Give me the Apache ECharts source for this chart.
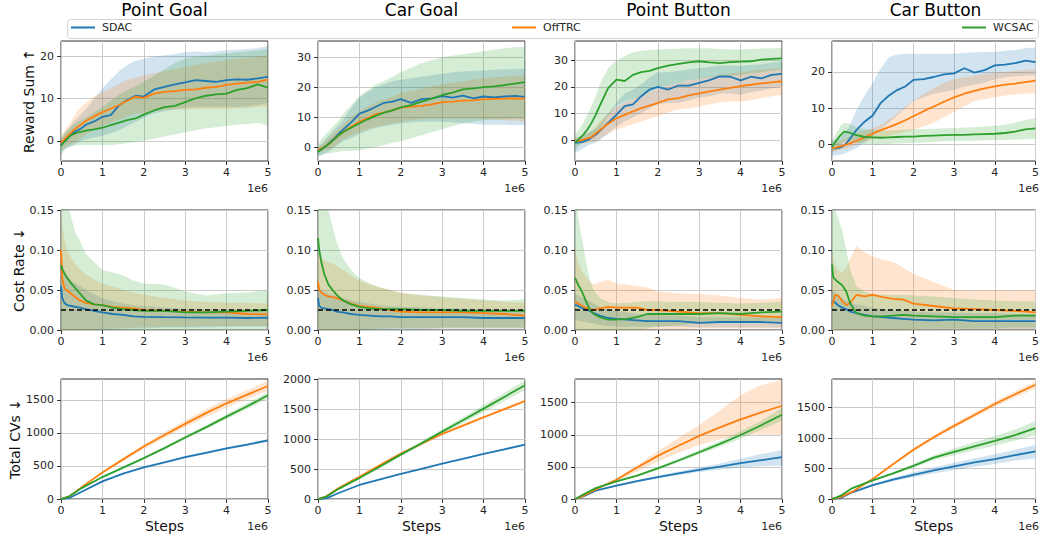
<!DOCTYPE html>
<html><head><meta charset="utf-8">
<script src="https://cdn.jsdelivr.net/npm/echarts@6/dist/echarts.min.js"></script>
<style>html,body{margin:0;padding:0;background:#fff}#c{width:1042px;height:540px}</style>
</head><body><div id="c"></div>
<script>
const algos = ['SDAC', 'OffTRC', 'WCSAC'];
const colors = ['#1f77b4', '#ff7f0e', '#2ca02c'];
const bandColors = ['rgba(31,119,180,0.2)', 'rgba(255,127,14,0.2)', 'rgba(44,160,44,0.2)'];
const tasks = ['Point Goal', 'Car Goal', 'Point Button', 'Car Button'];
const rowLabels = ['Reward Sum ↑', 'Cost Rate ↓', 'Total CVs ↓'];
const costLimit = 0.025;

// x positions (in units of 1e6 steps)
const stepsRew = [0, 0.1, 0.2, 0.3, 0.4, 0.5, 0.6, 0.8, 1, 1.2, 1.4, 1.6, 1.8, 2, 2.25, 2.5, 2.75, 3, 3.25, 3.5, 3.75, 4, 4.25, 4.5, 4.75, 5];
const stepsCost = [0, 0.03, 0.08, 0.15, 0.25, 0.35, 0.45, 0.6, 0.8, 1, 1.25, 1.5, 1.75, 2, 2.5, 3, 3.5, 4, 4.5, 5];
const stepsCV = [0, 0.2, 0.5, 1, 1.5, 2, 2.5, 3, 3.5, 4, 4.5, 5];

// tick labels
const ticksRewPG = [0, 10, 20];
const ticksRewCG = [0, 10, 20, 30];
const ticksRewPB = [0, 10, 20, 30];
const ticksRewCB = [0, 10, 20];
const ticksCost = [0, 0.05, 0.1, 0.15];
const ticksCV = [0, 500, 1000, 1500];
const ticksCVCG = [0, 500, 1000, 1500, 2000];

// ---- Reward Sum: Point Goal
const rewPG_SDAC = [-1, 0, 1, 2, 2.5, 3, 3.8, 4.6, 5.7, 6.1, 8.4, 9.7, 10.7, 10.5, 12.2, 12.8, 13.4, 13.9, 14.4, 14.2, 14.0, 14.4, 14.6, 14.5, 14.8, 15.2];
const rewPG_SDAC_lo = [-2.5, -2, -1.5, -1, -0.5, 0, 0.3, 0.8, 1.2, 1.8, 2.5, 3.5, 4.5, 5.5, 6.5, 7, 7.5, 7.8, 8, 8, 8, 8, 8, 8.2, 8.5, 9];
const rewPG_SDAC_hi = [0.5, 2, 3, 4.5, 5.5, 6.5, 7.5, 10, 12.5, 14.5, 16.5, 18, 19, 19.5, 20, 20.3, 20.6, 21, 21.2, 21, 21.2, 21.5, 21.6, 21.8, 22, 22.5];
const rewPG_OffTRC = [-0.5, 0.5, 1.5, 2.5, 3.3, 4, 4.7, 5.8, 6.8, 7.6, 8.5, 9.5, 10.5, 10.2, 11.2, 11.6, 11.8, 12.1, 12.2, 12.6, 12.8, 13.3, 13.6, 13.8, 14.0, 14.5];
const rewPG_OffTRC_lo = [-2, -1.5, -1, -0.5, 0, 0.8, 1.5, 2.5, 3.5, 4.2, 5, 5.8, 6.5, 6.5, 7, 7.3, 7.5, 7.5, 7.5, 7.6, 7.6, 7.6, 7.7, 7.8, 8, 8.2];
const rewPG_OffTRC_hi = [1, 2.5, 4, 5.5, 7, 8.2, 9, 10.5, 11.5, 12.5, 13.5, 14.5, 15, 15.5, 16, 16.5, 17, 17.5, 18, 18.5, 18.8, 19.2, 19.5, 19.8, 20, 20.3];
const rewPG_WCSAC = [-1.2, 0, 1, 1.6, 2, 2.2, 2.4, 2.7, 3.1, 3.7, 4.3, 4.9, 5.3, 6.2, 7.2, 8.0, 8.3, 9.2, 10.1, 10.7, 11.0, 11.2, 12.1, 12.5, 13.4, 12.6];
const rewPG_WCSAC_lo = [-3.5, -2, -1.5, -1.2, -1, -1, -1, -1, -1, -1, -0.8, -0.6, -0.3, 0, 0.5, 1, 1.5, 2, 2.5, 3, 3.2, 3.5, 3.8, 4, 4.3, 3.6];
const rewPG_WCSAC_hi = [0.5, 2, 3, 3.8, 4.5, 5, 5.5, 6.8, 8, 9.5, 11, 12, 13, 14, 15.5, 17, 18.5, 19.5, 20, 20.2, 20.5, 20.8, 21, 21.2, 21.5, 21.8];

// ---- Reward Sum: Car Goal
const rewCG_SDAC = [-1.5, -0.5, 0.5, 1.8, 3, 4.5, 5.8, 8.3, 11.2, 12.2, 13.5, 14.8, 15.2, 16, 14.8, 16, 16.3, 17, 16.5, 17.2, 16.3, 16.9, 16.6, 16.9, 17.1, 16.8];
const rewCG_SDAC_lo = [-3, -2.5, -2, -1, 0, 1, 2, 3, 4.5, 5.5, 6.5, 7, 7.5, 8, 8.3, 8.5, 8.5, 8.5, 8.3, 8, 7.8, 7.5, 7.5, 7.5, 7.3, 7.5];
const rewCG_SDAC_hi = [0, 1.5, 3, 4.5, 6, 7.5, 9, 13, 16.5, 18.5, 20, 21, 22, 22.5, 23, 23.5, 24, 24.5, 25, 25.2, 25.5, 25.5, 25.8, 26, 26, 26.2];
const rewCG_OffTRC = [-1, -0.3, 0.5, 1.5, 2.8, 4, 5, 6.8, 8.5, 9.7, 11, 11.6, 12.3, 13.2, 13.5, 13.8, 14.3, 15, 15.2, 15.5, 15.6, 16, 16.1, 16.2, 16.3, 16.2];
const rewCG_OffTRC_lo = [-2, -1.5, -1, -0.5, 0.5, 1.5, 2.5, 4, 5, 6, 6.8, 7.5, 8, 8.5, 9, 9.3, 9.5, 9.5, 9.5, 9.5, 9.5, 9.3, 9.2, 9, 8.8, 8.5];
const rewCG_OffTRC_hi = [0, 1, 2.5, 3.5, 5, 6, 7.5, 10, 12, 13.5, 15, 16, 17, 18, 18.8, 19.5, 20.3, 21, 21.5, 22, 22.5, 23, 23.3, 23.6, 23.8, 24];
const rewCG_WCSAC = [-1.5, -0.5, 0.5, 1.5, 2.7, 4, 5, 6.5, 8, 9.3, 10.5, 11.5, 12.3, 13.3, 14, 15.2, 16.2, 17.4, 18.2, 19.3, 19.6, 20, 20.3, 20.7, 21.2, 21.7];
const rewCG_WCSAC_lo = [-3, -2.5, -2, -2, -1.7, -1.5, -1.3, -1.2, -1, -0.5, 0, 0.8, 1.5, 2, 3, 4, 5, 6, 7, 8, 8.5, 9, 9.2, 9.3, 9.5, 9.5];
const rewCG_WCSAC_hi = [1, 3, 4.5, 6, 7.5, 9, 11, 14, 17, 19, 21, 22, 23.5, 25, 26.5, 28, 29, 30, 30.5, 31, 31.5, 32, 32.5, 33, 33.3, 33.5];

// ---- Reward Sum: Point Button
const rewPB_SDAC = [-1, -0.8, -0.5, 0, 1, 2, 3.5, 6.5, 9.5, 12.8, 13.4, 16.5, 19, 20, 19, 20.5, 20.5, 21.5, 22.5, 23.9, 23.8, 22.4, 23.8, 23.2, 24.5, 24.9];
const rewPB_SDAC_lo = [-5, -4, -3, -2, -1.5, -1, 0, 2.5, 5, 7, 8.5, 10, 12, 13.5, 14, 14, 15, 16, 16.5, 17.5, 17.5, 17, 18, 18.5, 19.5, 20];
const rewPB_SDAC_hi = [1, 1.5, 2, 2.5, 3.5, 4.5, 6, 10, 14, 17.5, 19, 21, 23.5, 25.5, 25.5, 26, 26.5, 27, 27.5, 28, 28, 27.8, 28.2, 28.5, 29, 29.5];
const rewPB_OffTRC = [-0.5, -0.2, 0.2, 0.7, 1.2, 2.5, 3.8, 6.2, 8.2, 9.5, 10.8, 12, 13, 14, 15.3, 15.8, 16.8, 17.6, 18.3, 19, 19.6, 20.3, 20.8, 21.3, 21.7, 22.1];
const rewPB_OffTRC_lo = [-2, -1.5, -1.2, -1, -0.8, -0.5, 0.5, 2.5, 4, 5, 6, 7, 8, 9, 10.5, 11.5, 12, 12.5, 13.5, 14, 14.5, 14.5, 15, 15.8, 16.5, 17];
const rewPB_OffTRC_hi = [1, 1.2, 1.5, 2.5, 3.5, 5, 7, 10, 12.5, 14, 15.5, 17, 18, 19, 20.5, 21.5, 22.3, 23, 23.8, 24.5, 25, 25.5, 26, 26.5, 26.8, 27];
const rewPB_WCSAC = [-1, 0.5, 2, 4, 6.5, 9.5, 13, 19.5, 22.7, 22.2, 24.5, 25.5, 26, 27, 28, 28.6, 29.2, 29.6, 29.2, 28.9, 29.3, 29.5, 29.6, 30.2, 30.5, 30.7];
const rewPB_WCSAC_lo = [-4, -2, -1, 0, 1, 2.5, 4.5, 9, 13, 14.5, 15.5, 16.5, 18, 19.5, 20.5, 21.5, 22.5, 23, 23.5, 24, 24, 24.5, 25, 25.5, 26, 26.5];
const rewPB_WCSAC_hi = [2, 4, 6.5, 9.5, 13, 16.5, 21, 27, 30, 31.5, 33, 33.5, 33.8, 34, 34.2, 34.3, 34.5, 34.5, 34.5, 34.2, 34, 34, 34.2, 34.4, 34.5, 34.5];

// ---- Reward Sum: Car Button
const rewCB_SDAC = [-1, -1, -0.8, -0.3, 1, 2.5, 4, 6.3, 8, 11.5, 13.5, 15, 16, 17.8, 18, 18.6, 19.3, 19.6, 21, 19.8, 20.5, 21.8, 22, 22.4, 23.1, 22.7];
const rewCB_SDAC_lo = [-3, -3, -2.8, -2.5, -2, -1.5, -1, 0.5, 2.5, 4, 6, 8, 10, 12, 13, 14, 14.5, 15, 16, 16.5, 17, 18, 18.5, 18.8, 19, 19];
const rewCB_SDAC_hi = [1, 1.5, 2, 3, 4.5, 7, 9.5, 13.5, 17, 21, 24, 24.8, 25, 25, 25, 25, 25, 25, 25.2, 25.4, 25.5, 25.5, 25.8, 26, 26.5, 26.8];
const rewCB_OffTRC = [-1, -0.8, -0.5, -0.2, 0.2, 0.6, 1, 2, 3, 4, 4.8, 5.7, 6.7, 7.8, 9.2, 10.5, 11.8, 13, 14, 14.8, 15.5, 16, 16.5, 16.8, 17.2, 17.6];
const rewCB_OffTRC_lo = [-2, -1.8, -1.5, -1.2, -1, -0.5, 0, 0.8, 1.5, 2, 2.5, 3, 3.5, 4, 5, 6, 7.5, 9, 10.5, 12, 12.5, 13, 13.5, 13.8, 14, 14.2];
const rewCB_OffTRC_hi = [0, 0.5, 1, 1.5, 2, 2.5, 3, 3.8, 4.5, 5.5, 7, 8.5, 10.5, 12, 14, 15.5, 17, 18, 18.5, 19, 19.5, 19.8, 20, 20.3, 20.5, 20.8];
const rewCB_WCSAC = [-0.5, 1, 2.5, 3.6, 3.4, 3, 2.6, 2.1, 2, 1.9, 2, 2.1, 2.2, 2.2, 2.4, 2.5, 2.6, 2.7, 2.7, 2.8, 2.9, 3, 3.2, 3.6, 4.2, 4.5];
const rewCB_WCSAC_lo = [-2, -1, 0, 1, 1, 0.8, 0.5, 0.2, 0, 0, 0.2, 0.3, 0.4, 0.5, 0.6, 0.8, 0.9, 1, 1, 1.1, 1.2, 1.2, 1.3, 1.4, 1.5, 1.6];
const rewCB_WCSAC_hi = [1, 3, 5, 6, 5.8, 5.3, 4.8, 4.2, 4, 3.8, 3.9, 4, 4.1, 4.2, 4.3, 4.4, 4.5, 4.6, 4.7, 4.8, 5, 5.2, 5.5, 6, 6.8, 7.3];

// ---- Cost Rate: Point Goal
const costPG_SDAC = [0.055, 0.04, 0.034, 0.031, 0.03, 0.029, 0.028, 0.026, 0.024, 0.022, 0.02, 0.019, 0.017, 0.0165, 0.016, 0.0157, 0.0155, 0.0155, 0.015, 0.0153];
const costPG_SDAC_lo = [0, 0, 0, 0, 0, 0, 0, 0, 0, 0, 0.001, 0.002, 0.002, 0.002, 0.003, 0.003, 0.003, 0.004, 0.004, 0.004];
const costPG_SDAC_hi = [0.1, 0.085, 0.075, 0.068, 0.062, 0.058, 0.055, 0.05, 0.045, 0.04, 0.036, 0.033, 0.031, 0.03, 0.028, 0.027, 0.026, 0.026, 0.025, 0.025];
const costPG_OffTRC = [0.1, 0.065, 0.053, 0.049, 0.045, 0.041, 0.037, 0.034, 0.032, 0.031, 0.029, 0.028, 0.027, 0.025, 0.024, 0.023, 0.022, 0.022, 0.02, 0.0195];
const costPG_OffTRC_lo = [0, 0, 0, 0, 0, 0, 0, 0, 0, 0.001, 0.002, 0.002, 0.003, 0.003, 0.004, 0.004, 0.005, 0.005, 0.005, 0.005];
const costPG_OffTRC_hi = [0.15, 0.13, 0.115, 0.1, 0.09, 0.082, 0.076, 0.07, 0.063, 0.058, 0.054, 0.05, 0.047, 0.044, 0.04, 0.037, 0.035, 0.034, 0.034, 0.033];
const costPG_WCSAC = [0.081, 0.076, 0.071, 0.065, 0.058, 0.052, 0.046, 0.037, 0.032, 0.031, 0.028, 0.026, 0.025, 0.024, 0.024, 0.022, 0.022, 0.023, 0.024, 0.025];
const costPG_WCSAC_lo = [-0.03, -0.03, -0.025, -0.02, -0.018, -0.015, -0.012, -0.01, -0.008, -0.006, -0.005, -0.004, -0.003, -0.002, -0.001, 0, 0.001, 0.001, 0.001, 0.001];
const costPG_WCSAC_hi = [0.2, 0.2, 0.18, 0.16, 0.14, 0.122, 0.112, 0.095, 0.085, 0.075, 0.072, 0.068, 0.062, 0.058, 0.057, 0.048, 0.043, 0.046, 0.047, 0.05];

// ---- Cost Rate: Car Goal
const costCG_SDAC = [0.04, 0.03, 0.028, 0.027, 0.026, 0.025, 0.023, 0.022, 0.02, 0.019, 0.018, 0.017, 0.017, 0.016, 0.016, 0.016, 0.016, 0.015, 0.015, 0.015];
const costCG_SDAC_lo = [0, 0, 0, 0, 0, 0, 0, 0, 0, 0, 0, 0.001, 0.001, 0.001, 0.001, 0.002, 0.002, 0.002, 0.002, 0.002];
const costCG_SDAC_hi = [0.065, 0.055, 0.05, 0.048, 0.046, 0.044, 0.042, 0.04, 0.037, 0.035, 0.033, 0.031, 0.03, 0.029, 0.028, 0.027, 0.027, 0.026, 0.026, 0.026];
const costCG_OffTRC = [0.06, 0.05, 0.047, 0.044, 0.042, 0.041, 0.04, 0.037, 0.033, 0.03, 0.029, 0.027, 0.025, 0.023, 0.022, 0.022, 0.022, 0.021, 0.02, 0.018];
const costCG_OffTRC_lo = [0, 0, 0, 0, 0, 0, 0, 0, 0, 0, 0.001, 0.002, 0.002, 0.002, 0.002, 0.002, 0.002, 0.002, 0.002, 0.002];
const costCG_OffTRC_hi = [0.1, 0.095, 0.09, 0.087, 0.085, 0.083, 0.08, 0.075, 0.068, 0.062, 0.057, 0.053, 0.05, 0.047, 0.043, 0.041, 0.039, 0.037, 0.035, 0.034];
const costCG_WCSAC = [0.115, 0.1, 0.085, 0.07, 0.057, 0.05, 0.044, 0.037, 0.032, 0.029, 0.027, 0.026, 0.026, 0.026, 0.025, 0.025, 0.024, 0.024, 0.024, 0.024];
const costCG_WCSAC_lo = [-0.02, -0.02, -0.015, -0.01, -0.008, -0.005, -0.003, -0.002, 0, 0, 0.001, 0.001, 0.002, 0.002, 0.002, 0.003, 0.003, 0.003, 0.003, 0.003];
const costCG_WCSAC_hi = [0.2, 0.2, 0.19, 0.17, 0.15, 0.13, 0.11, 0.09, 0.075, 0.065, 0.058, 0.053, 0.05, 0.046, 0.044, 0.042, 0.04, 0.038, 0.037, 0.038];

// ---- Cost Rate: Point Button
const costPB_SDAC = [0.032, 0.031, 0.03, 0.028, 0.026, 0.024, 0.021, 0.018, 0.015, 0.014, 0.013, 0.012, 0.011, 0.011, 0.011, 0.009, 0.01, 0.01, 0.01, 0.009];
const costPB_SDAC_lo = [0.012, 0.012, 0.012, 0.011, 0.01, 0.009, 0.008, 0.006, 0.005, 0.004, 0.004, 0.004, 0.004, 0.004, 0.004, 0.003, 0.003, 0.003, 0.003, 0.003];
const costPB_SDAC_hi = [0.045, 0.045, 0.043, 0.041, 0.039, 0.036, 0.033, 0.029, 0.026, 0.024, 0.022, 0.02, 0.019, 0.018, 0.018, 0.016, 0.016, 0.016, 0.016, 0.015];
const costPB_OffTRC = [0.036, 0.035, 0.033, 0.031, 0.028, 0.026, 0.025, 0.027, 0.029, 0.028, 0.028, 0.028, 0.025, 0.025, 0.023, 0.021, 0.021, 0.019, 0.017, 0.016];
const costPB_OffTRC_lo = [0, 0, 0, 0, 0, 0, 0, 0, 0, 0, 0, 0, 0.001, 0.001, 0.001, 0.002, 0.002, 0.002, 0.002, 0.002];
const costPB_OffTRC_hi = [0.1, 0.095, 0.085, 0.075, 0.068, 0.06, 0.057, 0.06, 0.063, 0.058, 0.057, 0.055, 0.053, 0.048, 0.046, 0.045, 0.043, 0.04, 0.038, 0.04];
const costPB_WCSAC = [0.065, 0.062, 0.056, 0.05, 0.038, 0.026, 0.02, 0.016, 0.013, 0.013, 0.014, 0.016, 0.02, 0.02, 0.02, 0.02, 0.021, 0.02, 0.022, 0.023];
const costPB_WCSAC_lo = [0, 0, 0, 0, -0.01, -0.01, -0.01, -0.01, -0.008, -0.005, -0.003, 0, 0.002, 0.004, 0.006, 0.008, 0.009, 0.01, 0.01, 0.011];
const costPB_WCSAC_hi = [0.2, 0.17, 0.14, 0.12, 0.09, 0.065, 0.05, 0.04, 0.035, 0.033, 0.034, 0.035, 0.036, 0.036, 0.035, 0.035, 0.034, 0.033, 0.034, 0.035];

// ---- Cost Rate: Car Button
const costCB_SDAC = [0.032, 0.036, 0.034, 0.031, 0.028, 0.026, 0.023, 0.021, 0.019, 0.017, 0.016, 0.015, 0.014, 0.013, 0.012, 0.013, 0.011, 0.011, 0.011, 0.011];
const costCB_SDAC_lo = [0.002, 0.002, 0.002, 0.001, 0.001, 0.001, 0.001, 0.001, 0.001, 0.001, 0.001, 0.001, 0.001, 0.001, 0.001, 0.001, 0.001, 0.001, 0.001, 0.001];
const costCB_SDAC_hi = [0.05, 0.05, 0.047, 0.044, 0.04, 0.037, 0.034, 0.032, 0.03, 0.028, 0.026, 0.025, 0.024, 0.023, 0.022, 0.022, 0.021, 0.021, 0.02, 0.02];
const costCB_OffTRC = [0.03, 0.035, 0.044, 0.043, 0.036, 0.031, 0.034, 0.044, 0.042, 0.044, 0.041, 0.039, 0.038, 0.033, 0.03, 0.027, 0.026, 0.025, 0.024, 0.022];
const costCB_OffTRC_lo = [0, 0, 0, 0, 0, 0, 0, 0, 0, 0, 0, 0, 0, 0, 0.001, 0.001, 0.001, 0.001, 0.001, 0.001];
const costCB_OffTRC_hi = [0.1, 0.09, 0.08, 0.075, 0.072, 0.078, 0.09, 0.105, 0.097, 0.092, 0.088, 0.085, 0.078, 0.07, 0.06, 0.05, 0.049, 0.05, 0.049, 0.05];
const costCB_WCSAC = [0.082, 0.066, 0.063, 0.06, 0.056, 0.048, 0.033, 0.021, 0.018, 0.017, 0.017, 0.018, 0.019, 0.018, 0.017, 0.016, 0.016, 0.016, 0.018, 0.018];
const costCB_WCSAC_lo = [0, 0, 0, 0, 0, -0.005, -0.005, -0.005, -0.003, -0.002, 0, 0, 0.001, 0.001, 0.002, 0.002, 0.002, 0.002, 0.003, 0.003];
const costCB_WCSAC_hi = [0.2, 0.16, 0.15, 0.14, 0.125, 0.1, 0.075, 0.055, 0.048, 0.045, 0.044, 0.044, 0.044, 0.043, 0.042, 0.04, 0.038, 0.037, 0.036, 0.036];

// ---- Total CVs
const cvPG_SDAC = [0, 15, 110, 267, 385, 478, 555, 634, 700, 765, 825, 886];
const cvPG_SDAC_lo = [0, 12, 103, 257, 372, 465, 540, 618, 682, 747, 805, 864];
const cvPG_SDAC_hi = [0, 18, 117, 277, 398, 491, 570, 650, 718, 783, 845, 908];
const cvPG_OffTRC = [0, 40, 180, 400, 600, 795, 970, 1137, 1300, 1449, 1580, 1711];
const cvPG_OffTRC_lo = [0, 35, 170, 385, 575, 760, 925, 1085, 1240, 1385, 1515, 1640];
const cvPG_OffTRC_hi = [0, 45, 190, 415, 625, 830, 1015, 1190, 1360, 1515, 1650, 1790];
const cvPG_WCSAC = [0, 40, 165, 332, 475, 619, 770, 931, 1085, 1248, 1405, 1570];
const cvPG_WCSAC_lo = [0, 37, 160, 322, 462, 602, 748, 905, 1055, 1212, 1362, 1520];
const cvPG_WCSAC_hi = [0, 43, 170, 342, 488, 636, 792, 957, 1115, 1284, 1448, 1620];

const cvCG_SDAC = [0, 10, 100, 235, 330, 419, 505, 592, 673, 754, 832, 911];
const cvCG_SDAC_lo = [0, 8, 95, 228, 322, 410, 495, 581, 661, 741, 818, 896];
const cvCG_SDAC_hi = [0, 12, 105, 242, 338, 428, 515, 603, 685, 767, 846, 926];
const cvCG_OffTRC = [0, 45, 185, 372, 570, 760, 925, 1089, 1230, 1369, 1505, 1642];
const cvCG_OffTRC_lo = [0, 42, 178, 362, 556, 742, 905, 1068, 1208, 1345, 1480, 1615];
const cvCG_OffTRC_hi = [0, 48, 192, 382, 584, 778, 945, 1110, 1252, 1393, 1530, 1669];
const cvCG_WCSAC = [0, 40, 170, 352, 545, 743, 935, 1128, 1320, 1514, 1710, 1905];
const cvCG_WCSAC_lo = [0, 37, 162, 337, 525, 718, 900, 1088, 1270, 1454, 1640, 1820];
const cvCG_WCSAC_hi = [0, 43, 178, 367, 565, 768, 970, 1168, 1370, 1574, 1780, 1990];

const cvPB_SDAC = [0, 40, 130, 207, 280, 341, 400, 455, 505, 559, 605, 652];
const cvPB_SDAC_lo = [0, 35, 120, 195, 262, 318, 370, 420, 455, 490, 510, 520];
const cvPB_SDAC_hi = [0, 45, 140, 219, 298, 364, 430, 490, 555, 628, 700, 760];
const cvPB_OffTRC = [0, 50, 150, 300, 490, 672, 830, 983, 1115, 1241, 1350, 1453];
const cvPB_OffTRC_lo = [0, 45, 135, 280, 430, 580, 720, 843, 930, 1000, 1000, 1000];
const cvPB_OffTRC_hi = [0, 55, 165, 320, 530, 745, 950, 1153, 1380, 1620, 1775, 1860];
const cvPB_WCSAC = [0, 70, 170, 274, 365, 476, 600, 729, 860, 998, 1150, 1314];
const cvPB_WCSAC_lo = [0, 65, 160, 262, 348, 455, 572, 695, 815, 940, 1080, 1220];
const cvPB_WCSAC_hi = [0, 75, 180, 286, 382, 497, 628, 763, 905, 1056, 1220, 1420];

const cvCB_SDAC = [0, 15, 110, 229, 320, 398, 470, 535, 600, 655, 720, 780];
const cvCB_SDAC_lo = [0, 12, 100, 210, 290, 358, 420, 475, 530, 575, 630, 670];
const cvCB_SDAC_hi = [0, 18, 120, 248, 350, 438, 520, 595, 670, 735, 810, 890];
const cvCB_OffTRC = [0, 30, 120, 327, 570, 807, 1015, 1200, 1380, 1560, 1720, 1875];
const cvCB_OffTRC_lo = [0, 26, 110, 312, 548, 780, 980, 1165, 1340, 1515, 1670, 1820];
const cvCB_OffTRC_hi = [0, 34, 130, 342, 592, 834, 1050, 1235, 1420, 1605, 1770, 1930];
const cvCB_WCSAC = [0, 50, 180, 305, 420, 545, 680, 775, 865, 955, 1050, 1162];
const cvCB_WCSAC_lo = [0, 46, 170, 292, 400, 515, 640, 720, 800, 875, 960, 1045];
const cvCB_WCSAC_hi = [0, 54, 190, 318, 440, 575, 720, 830, 930, 1035, 1140, 1280];

// ---------- panel definitions ----------
const panels = [
  {row: 0, col: 0, x: stepsRew, min: -4.8, max: 23.7, ticks: ticksRewPG, s: [[rewPG_SDAC, rewPG_SDAC_lo, rewPG_SDAC_hi], [rewPG_OffTRC, rewPG_OffTRC_lo, rewPG_OffTRC_hi], [rewPG_WCSAC, rewPG_WCSAC_lo, rewPG_WCSAC_hi]]},
  {row: 0, col: 1, x: stepsRew, min: -4.6, max: 35.4, ticks: ticksRewCG, s: [[rewCG_SDAC, rewCG_SDAC_lo, rewCG_SDAC_hi], [rewCG_OffTRC, rewCG_OffTRC_lo, rewCG_OffTRC_hi], [rewCG_WCSAC, rewCG_WCSAC_lo, rewCG_WCSAC_hi]]},
  {row: 0, col: 2, x: stepsRew, min: -7.8, max: 37.2, ticks: ticksRewPB, s: [[rewPB_SDAC, rewPB_SDAC_lo, rewPB_SDAC_hi], [rewPB_OffTRC, rewPB_OffTRC_lo, rewPB_OffTRC_hi], [rewPB_WCSAC, rewPB_WCSAC_lo, rewPB_WCSAC_hi]]},
  {row: 0, col: 3, x: stepsRew, min: -4.5, max: 28.5, ticks: ticksRewCB, s: [[rewCB_SDAC, rewCB_SDAC_lo, rewCB_SDAC_hi], [rewCB_OffTRC, rewCB_OffTRC_lo, rewCB_OffTRC_hi], [rewCB_WCSAC, rewCB_WCSAC_lo, rewCB_WCSAC_hi]]},
  {row: 1, col: 0, x: stepsCost, min: 0, max: 0.15, ticks: ticksCost, s: [[costPG_SDAC, costPG_SDAC_lo, costPG_SDAC_hi], [costPG_OffTRC, costPG_OffTRC_lo, costPG_OffTRC_hi], [costPG_WCSAC, costPG_WCSAC_lo, costPG_WCSAC_hi]]},
  {row: 1, col: 1, x: stepsCost, min: 0, max: 0.15, ticks: ticksCost, s: [[costCG_SDAC, costCG_SDAC_lo, costCG_SDAC_hi], [costCG_OffTRC, costCG_OffTRC_lo, costCG_OffTRC_hi], [costCG_WCSAC, costCG_WCSAC_lo, costCG_WCSAC_hi]]},
  {row: 1, col: 2, x: stepsCost, min: 0, max: 0.15, ticks: ticksCost, s: [[costPB_SDAC, costPB_SDAC_lo, costPB_SDAC_hi], [costPB_OffTRC, costPB_OffTRC_lo, costPB_OffTRC_hi], [costPB_WCSAC, costPB_WCSAC_lo, costPB_WCSAC_hi]]},
  {row: 1, col: 3, x: stepsCost, min: 0, max: 0.15, ticks: ticksCost, s: [[costCB_SDAC, costCB_SDAC_lo, costCB_SDAC_hi], [costCB_OffTRC, costCB_OffTRC_lo, costCB_OffTRC_hi], [costCB_WCSAC, costCB_WCSAC_lo, costCB_WCSAC_hi]]},
  {row: 2, col: 0, x: stepsCV, min: 0, max: 1817, ticks: ticksCV, s: [[cvPG_SDAC, cvPG_SDAC_lo, cvPG_SDAC_hi], [cvPG_OffTRC, cvPG_OffTRC_lo, cvPG_OffTRC_hi], [cvPG_WCSAC, cvPG_WCSAC_lo, cvPG_WCSAC_hi]]},
  {row: 2, col: 1, x: stepsCV, min: 0, max: 2010, ticks: ticksCVCG, s: [[cvCG_SDAC, cvCG_SDAC_lo, cvCG_SDAC_hi], [cvCG_OffTRC, cvCG_OffTRC_lo, cvCG_OffTRC_hi], [cvCG_WCSAC, cvCG_WCSAC_lo, cvCG_WCSAC_hi]]},
  {row: 2, col: 2, x: stepsCV, min: 0, max: 1870, ticks: ticksCV, s: [[cvPB_SDAC, cvPB_SDAC_lo, cvPB_SDAC_hi], [cvPB_OffTRC, cvPB_OffTRC_lo, cvPB_OffTRC_hi], [cvPB_WCSAC, cvPB_WCSAC_lo, cvPB_WCSAC_hi]]},
  {row: 2, col: 3, x: stepsCV, min: 0, max: 1970, ticks: ticksCV, s: [[cvCB_SDAC, cvCB_SDAC_lo, cvCB_SDAC_hi], [cvCB_OffTRC, cvCB_OffTRC_lo, cvCB_OffTRC_hi], [cvCB_WCSAC, cvCB_WCSAC_lo, cvCB_WCSAC_hi]]}
];

// ---------- layout ----------
const FONT = '"DejaVu Sans", "Liberation Sans", sans-serif';
const lefts = [61, 318, 575, 832];
const tops = [41, 210, 379];
const W = 207, H = 120;
const yNameGap = [24, 35, 38];
const txt = '#262626';

const grid = [], xAxis = [], yAxis = [], series = [], graphic = [];

panels.forEach((p, k) => {
  grid.push({left: lefts[p.col], top: tops[p.row], width: W, height: H, show: true,
    borderColor: '#333', borderWidth: 1, backgroundColor: 'transparent', containLabel: false});
  xAxis.push({
    gridIndex: k, type: 'value', min: 0, max: 5, interval: 1,
    axisLine: {show: false, onZero: false},
    axisTick: {show: true, length: 4, lineStyle: {color: '#333'}},
    axisLabel: {color: txt, fontSize: 11, fontFamily: FONT, margin: 6},
    splitLine: {show: true, lineStyle: {color: '#cbcbcb', width: 1}},
    name: p.row === 2 ? 'Steps' : '', nameLocation: 'middle', nameGap: 20,
    nameTextStyle: {color: '#111', fontSize: 14, fontFamily: FONT}
  });
  const fmt = p.row === 1 ? (v => v.toFixed(2)) : (v => String(v));
  yAxis.push({
    gridIndex: k, type: 'value', min: p.min, max: p.max,
    axisLine: {show: false, onZero: false},
    axisTick: {show: true, length: 4, lineStyle: {color: '#333'}, customValues: p.ticks},
    axisLabel: {color: txt, fontSize: 11, fontFamily: FONT, margin: 7, customValues: p.ticks, formatter: fmt},
    splitLine: {show: true, lineStyle: {color: '#cbcbcb', width: 1}},
    name: p.col === 0 ? rowLabels[p.row] : '', nameLocation: 'middle', nameGap: yNameGap[p.row],
    nameTextStyle: {color: '#111', fontSize: 14, fontFamily: FONT}
  });
  // confidence bands: one polygon per series, mapped through the axis scales
  p.s.forEach(([m, lo, hi], a) => {
    const xs = p.x;
    series.push({
      type: 'custom', xAxisIndex: k, yAxisIndex: k, silent: true, clip: true, z: 1,
      data: xs.map((x, i) => [x, lo[i], hi[i]]),
      encode: {x: 0, y: [1, 2]},
      renderItem: function (params, api) {
        if (params.dataIndex !== 0) return null;
        const pts = [];
        for (let i = 0; i < xs.length; i++) pts.push(api.coord([xs[i], hi[i]]));
        for (let i = xs.length - 1; i >= 0; i--) pts.push(api.coord([xs[i], lo[i]]));
        const cs = params.coordSys;
        return {
          type: 'polygon', shape: {points: pts},
          style: {fill: bandColors[a], stroke: 'none'},
          clipPath: {type: 'rect', shape: {x: cs.x, y: cs.y, width: cs.width, height: cs.height}}
        };
      },
      animation: false
    });
  });
  p.s.forEach(([m, lo, hi], a) => {
    series.push({name: algos[a], type: 'line', xAxisIndex: k, yAxisIndex: k,
      data: p.x.map((x, i) => [x, m[i]]), symbol: 'none', showSymbol: false,
      lineStyle: {color: colors[a], width: 1.8}, itemStyle: {color: colors[a]}, z: 3, animation: false});
  });
  if (p.row === 1) {
    series.push({type: 'line', xAxisIndex: k, yAxisIndex: k, data: [[0, costLimit], [5, costLimit]],
      symbol: 'none', silent: true, lineStyle: {color: '#000', width: 1.5, type: [5, 3]}, z: 4, animation: false});
  }
  graphic.push({type: 'text', x: lefts[p.col] + W, y: tops[p.row] + H + 27,
    style: {text: '1e6', fill: txt, font: '11px ' + FONT, align: 'right', verticalAlign: 'middle', textAlign: 'right', textVerticalAlign: 'middle'}});
});

tasks.forEach((t, c) => {
  graphic.push({type: 'text', x: lefts[c] + W / 2, y: 10,
    style: {text: t, fill: '#000', font: '17px ' + FONT, align: 'center', verticalAlign: 'middle', textAlign: 'center', textVerticalAlign: 'middle'}});
});

graphic.push({type: 'rect', z: 0, shape: {x: 67.5, y: 19.5, width: 971, height: 19, r: 3},
  style: {fill: '#fff', stroke: '#d4d4d4', lineWidth: 1}});

const legendLefts = [71, 512, 962];
const legend = algos.map((a, i) => ({
  data: [a], left: legendLefts[i], top: 22, icon: 'rect', itemWidth: 24, itemHeight: 2,
  itemGap: 0, textStyle: {color: txt, fontSize: 11, fontFamily: FONT, padding: [0, 0, 0, 2]},
  selectedMode: false, z: 10, padding: 0
}));

const chart = echarts.init(document.getElementById('c'), null, {renderer: 'svg', width: 1042, height: 540});
chart.setOption({animation: false, backgroundColor: '#fff', textStyle: {fontFamily: FONT},
  grid, xAxis, yAxis, series, legend, graphic});
</script>
</body></html>
